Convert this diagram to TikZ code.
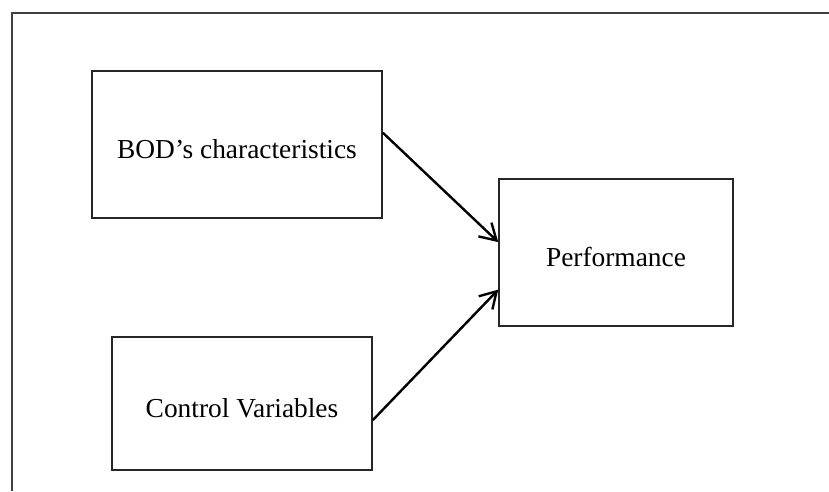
\documentclass[tikz,border=0pt]{standalone}
\usepackage{fontspec}
\setmainfont{Liberation Serif}
\usetikzlibrary{arrows.meta,calc}
\begin{document}
\begin{tikzpicture}[x=1pt,y=-1pt,
  box/.style={draw=black!85, line width=1.5pt, inner sep=0pt, text height=27pt, text depth=0pt,
    font=\fontsize{27.4}{32}\selectfont},
  arr/.style={line width=2.4pt, -{Straight Barb[length=16pt,width=19pt,line width=2.4pt]}},
  frame/.style={draw=black!75, line width=2pt}]
\useasboundingbox (0,0) rectangle (829,491);
\fill[white] (0,0) rectangle (829,491);
\coordinate (fa) at (12,491);
\coordinate (fb) at (12,13);
\coordinate (fc) at (829,13);
\draw[frame] (fa) -- (fb) -- (fc);
\node[box, minimum width=290pt, minimum height=147pt] (b1) at (237,144.5) {BOD’s characteristics};
\node[box, minimum width=234pt, minimum height=147pt] (b2) at (616,252.5) {Performance};
\node[box, minimum width=260pt, minimum height=133pt] (b3) at (242,403.5) {Control Variables};
\draw[arr] ($(b1.north east)!0.42!(b1.south east)$) -- ($(b2.north west)!0.43!(b2.south west)$);
\draw[arr] ($(b3.north east)!0.624!(b3.south east)$) -- ($(b2.north west)!0.75!(b2.south west)$);
\end{tikzpicture}
\end{document}
